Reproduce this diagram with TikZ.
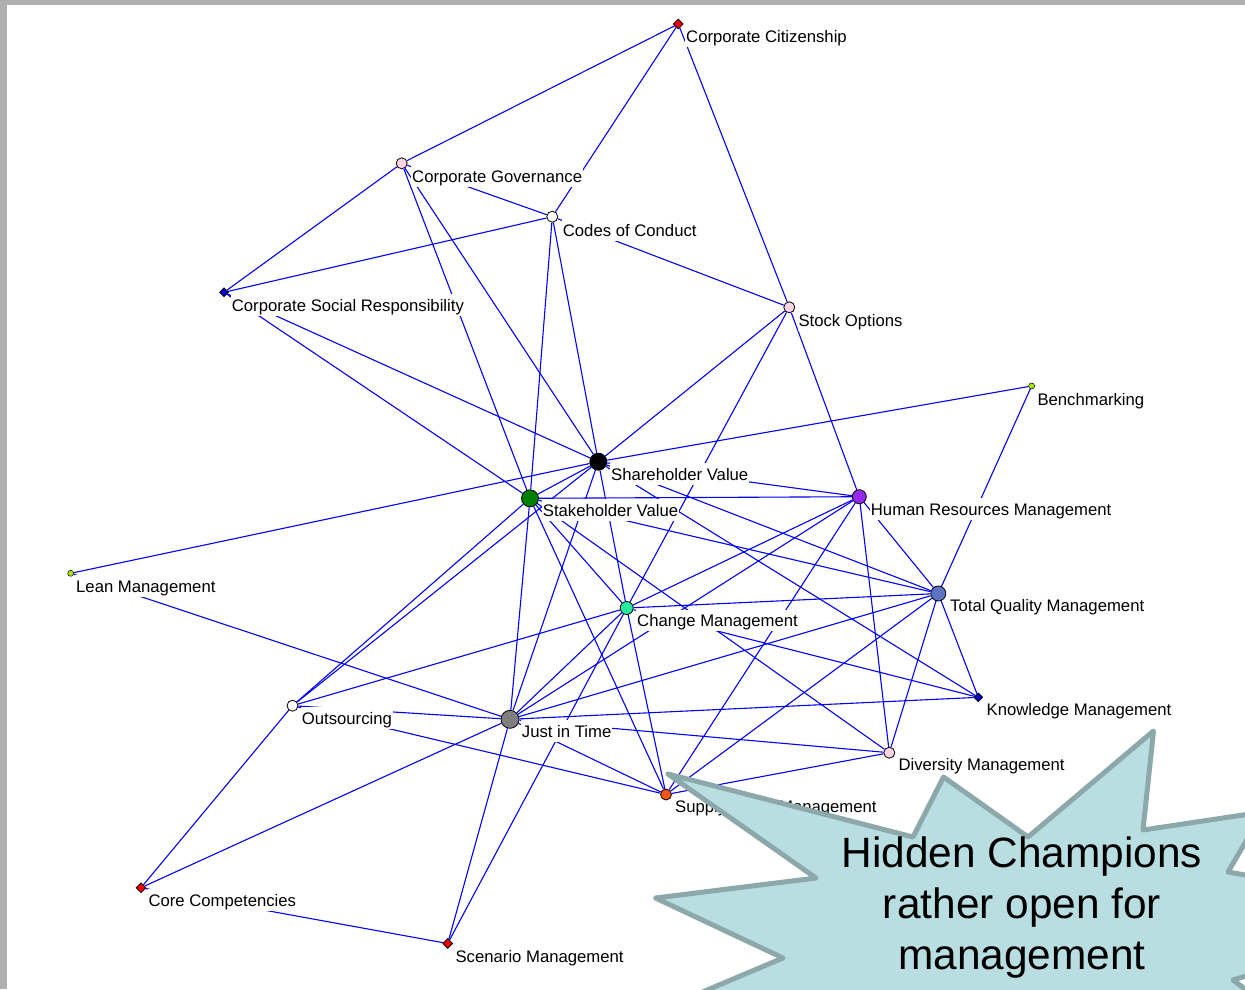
\documentclass[tikz,border=0pt]{standalone}
\usepackage{fontspec}
\setmainfont{Liberation Sans}
\usetikzlibrary{shapes.geometric}
\definecolor{edgeblue}{RGB}{0,0,255}
\definecolor{framegray}{RGB}{176,176,176}
\definecolor{starfill}{RGB}{185,222,226}
\definecolor{starline}{RGB}{140,168,170}
\definecolor{cPink}{RGB}{255,212,228}
\definecolor{cRed}{RGB}{235,0,0}
\definecolor{cNavy}{RGB}{0,0,200}
\definecolor{cLime}{RGB}{170,230,0}
\definecolor{cGreen}{RGB}{0,128,0}
\definecolor{cPurple}{RGB}{150,40,240}
\definecolor{cSlate}{RGB}{95,115,195}
\definecolor{cTurq}{RGB}{40,235,160}
\definecolor{cGray}{RGB}{128,128,128}
\definecolor{cOrange}{RGB}{255,85,20}
\pgfdeclarelayer{bg}
\pgfdeclarelayer{edges}
\pgfdeclarelayer{fg}
\pgfsetlayers{bg,edges,main,fg}
\begin{document}
\begin{tikzpicture}[x=1pt,y=-1pt,
  mk/.style={circle,draw=black,line width=0.8pt,inner sep=0pt,minimum size=#1},
  mkd/.style={diamond,draw=black,line width=0.7pt,inner sep=0pt,minimum size=#1},
  lbl/.style={anchor=base west,fill=white,inner xsep=1pt,inner ysep=1.5pt,
    text height=15.5pt,text depth=3pt,font=\fontsize{16.7}{20}\selectfont},
  link/.style={draw=edgeblue,line width=1.1pt},
  starshape/.style={fill=starfill,draw=starline,line width=5pt,line join=round},
  startext/.style={anchor=base,font=\fontsize{42.4}{51.5}\selectfont,inner sep=0pt}]
\useasboundingbox (0,0) rectangle (1245,989);
\begin{pgfonlayer}{bg}
  \fill[white] (0,0) rectangle (1245,989);
  \fill[framegray] (0,0) rectangle (7,989);
  \fill[framegray] (0,0) rectangle (1245,4.5);
\end{pgfonlayer}

% markers
\node[mkd=10,fill=cRed]   (cc)   at (678.3,24) {};
\node[mk=11,fill=cPink]   (cg)   at (401.7,163.3) {};
\node[mk=11,fill=white]   (coc)  at (552.3,216.7) {};
\node[mkd=9,fill=cNavy]   (csr)  at (224,292.3) {};
\node[mk=11,fill=cPink]   (so)   at (789.3,307.3) {};
\node[mk=6,fill=cLime,line width=0.5pt] (bm) at (1031.6,386) {};
\node[mk=17,fill=black]   (sv)   at (598.3,461.7) {};
\node[mk=17,fill=cGreen]  (stv)  at (530,498.3) {};
\node[mk=14,fill=cPurple] (hrm)  at (859.3,496.7) {};
\node[mk=15,fill=cSlate]  (tqm)  at (938.3,593.5) {};
\node[mk=6,fill=cLime,line width=0.5pt] (lm) at (70.7,573.3) {};
\node[mk=13,fill=cTurq]   (chm)  at (626.7,608) {};
\node[mk=11,fill=white]   (out)  at (292.5,705.7) {};
\node[mk=18,fill=cGray]   (jit)  at (510,719.3) {};
\node[mkd=9,fill=cNavy]   (km)   at (978.3,697.3) {};
\node[mk=11,fill=cPink]   (dm)   at (889.3,752.7) {};
\node[mk=11,fill=cOrange] (scm)  at (666,794.5) {};
\node[mkd=10,fill=cRed]   (ccomp) at (141,887.7) {};
\node[mkd=10,fill=cRed]   (scen) at (447.7,943.5) {};

% labels
\node[lbl] (tcc)   at (685,42.7)    {Corporate Citizenship};
\node[lbl] (tcg)   at (411,182.3)   {Corporate Governance};
\node[lbl] (tcoc)  at (561.7,236)   {Codes of Conduct};
\node[lbl] (tcsr)  at (230.7,311)   {Corporate Social Responsibility};
\node[lbl] (tso)   at (797.3,326)   {Stock Options};
\node[lbl] (tbm)   at (1036.3,405)  {Benchmarking};
\node[lbl] (tsv)   at (610,480)     {Shareholder Value};
\node[lbl] (tstv)  at (541.7,516)   {Stakeholder Value};
\node[lbl] (thrm)  at (869.7,515)   {Human Resources Management};
\node[lbl] (ttqm)  at (949,611.7)   {Total Quality Management};
\node[lbl] (tlm)   at (75,592.3)    {Lean Management};
\node[lbl] (tchm)  at (636,626.5)   {Change Management};
\node[lbl] (tout)  at (300.7,724)   {Outsourcing};
\node[lbl] (tjit)  at (520.7,737.3) {Just in Time};
\node[lbl] (tkm)   at (985.4,715)   {Knowledge Management};
\node[lbl] (tdm)   at (897.3,770)   {Diversity Management};
\node[lbl] (tscm)  at (674,812.7)   {Supply Chain Management};
\node[lbl] (tccomp) at (147.3,906)  {Core Competencies};
\node[lbl] (tscen) at (454.4,962.7) {Scenario Management};

\begin{pgfonlayer}{edges}
\foreach \a/\b in {cc/cg, cc/coc, cc/so,
  cg/csr, cg/coc, cg/stv, cg/sv,
  coc/csr, coc/so, coc/stv, coc/sv,
  csr/stv, csr/sv,
  so/sv, so/chm, so/hrm,
  sv/bm, sv/lm, sv/stv, sv/hrm, sv/tqm, sv/km, sv/chm, sv/jit, sv/out,
  stv/hrm, stv/tqm, stv/chm, stv/dm, stv/scm, stv/jit, stv/out,
  hrm/tqm, hrm/chm, hrm/jit, hrm/scm, hrm/dm,
  tqm/bm, tqm/chm, tqm/jit, tqm/scm, tqm/dm, tqm/km,
  chm/km, chm/out, chm/jit, chm/scen, chm/scm,
  out/jit, out/scm, out/ccomp,
  jit/lm, jit/ccomp, jit/scen, jit/km, jit/dm, jit/scm,
  dm/scm, ccomp/scen}
  \draw[link] (\a) -- (\b);
\end{pgfonlayer}

\begin{pgfonlayer}{fg}
\begin{scope}
\clip (7,4.5) rectangle (1245,989);
\draw[starshape] (668,774) -- (913,837) -- (943.5,777) -- (1028,837)
  -- (1153.5,731) -- (1143,830) -- (1263,812) -- (1228,872)
  -- (1320,888) -- (1262,925) -- (1330,950) -- (1233,980)
  -- (1300,1030) -- (1150,1000) -- (1100,1080) -- (1000,1000)
  -- (900,1080) -- (850,1000) -- (655,1012) -- (783,958)
  -- (655.5,898) -- (816,878) -- cycle;
\end{scope}
\node[startext] (hc1) at (1022,867) {Hidden Champions};
\node[startext] (hc2) at (1022,918) {rather open for};
\node[startext] (hc3) at (1022,969) {management};
\end{pgfonlayer}
\end{tikzpicture}
\end{document}
